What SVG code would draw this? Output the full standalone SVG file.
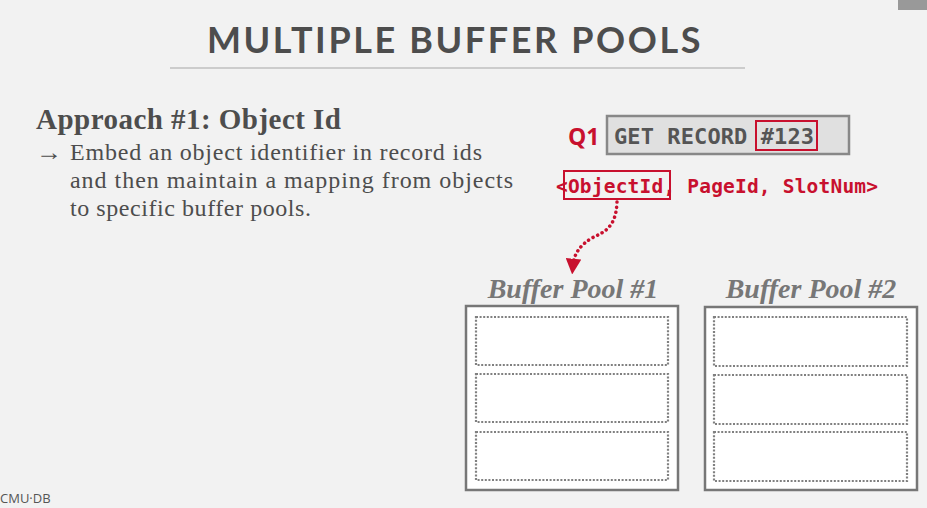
<svg xmlns="http://www.w3.org/2000/svg" width="927" height="508" viewBox="0 0 927 508">
<defs>
<style>
.title{font-family:Lato,"Open Sans",sans-serif;font-weight:bold;font-size:36px;fill:#4d4d4d;letter-spacing:2.6px}
.head{font-family:"Liberation Serif",serif;font-weight:bold;font-size:29px;fill:#4d4d4d}
.body{font-family:"Liberation Serif",serif;font-size:24px;fill:#4d4d4d}
.mono{font-family:"DejaVu Sans Mono","Liberation Mono",monospace;font-weight:bold}
.red{fill:#c8102e}
.pool{font-family:"Liberation Serif",serif;font-style:italic;font-weight:bold;font-size:28px;fill:#777}
.box{fill:#fff;stroke:#777;stroke-width:2.5}
.slot{fill:#fff;stroke:#808080;stroke-width:2.2;stroke-dasharray:2 1.6}
.hl{fill:none;stroke:#c8102e;stroke-width:2}
</style>
<marker id="ah" viewBox="0 0 10 10" refX="4" refY="5" markerWidth="4.5" markerHeight="4.5" orient="auto-start-reverse">
<path d="M0,0 L10,5 L0,10 z" fill="#c8102e"/>
</marker>
</defs>
<rect width="927" height="508" fill="#f2f2f2"/>
<rect x="898" y="0" width="29" height="10" fill="#999"/>
<text class="title" x="455" y="53" text-anchor="middle">MULTIPLE BUFFER POOLS</text>
<line x1="170" y1="68" x2="745" y2="68" stroke="#ccc" stroke-width="2"/>
<g id="text">
<text class="head" x="36" y="129" textLength="305">Approach #1: Object Id</text>
<text class="body" x="36" y="160" textLength="26" lengthAdjust="spacingAndGlyphs">→</text>
<text class="body" x="70" y="160" textLength="412">Embed an object identifier in record ids</text>
<text class="body" x="70" y="188" textLength="443">and then maintain a mapping from objects</text>
<text class="body" x="70" y="216" textLength="241">to specific buffer pools.</text>
</g>
<g id="query">
<text class="red" x="568" y="145" style="font-family:'Open Sans',Lato,sans-serif;font-weight:bold;font-size:23px">Q1</text>
<rect x="607" y="116" width="242" height="38" fill="#e0e0e0" stroke="#888" stroke-width="2.5"/>
<text class="mono" x="614" y="144" style="font-size:22px;fill:#555" textLength="200">GET RECORD #123</text>
<rect class="hl" x="756" y="121" width="61" height="29"/>
</g>
<g id="recordid">
<text class="mono red" x="556" y="193" style="font-size:19.5px" textLength="322">&lt;ObjectId, PageId, SlotNum&gt;</text>
<rect class="hl" x="564" y="171" width="106" height="28"/>
</g>
<g id="pool1">
<text class="pool" x="573" y="298" text-anchor="middle">Buffer Pool #1</text>
<rect class="box" x="466" y="306" width="212" height="184"/>
<rect class="slot" x="476" y="317" width="192" height="48"/>
<rect class="slot" x="476" y="374" width="192" height="48"/>
<rect class="slot" x="476" y="432" width="192" height="48"/>
</g>
<g id="pool2">
<text class="pool" x="811" y="298" text-anchor="middle">Buffer Pool #2</text>
<rect class="box" x="705" y="307" width="212" height="183"/>
<rect class="slot" x="714" y="317" width="193" height="49"/>
<rect class="slot" x="714" y="375" width="193" height="49"/>
<rect class="slot" x="714" y="432" width="193" height="49"/>
</g>
<g id="connectors">
<path d="M617,202 C616,228 604,232 592,238 C580,245 574,254 573,265" fill="none" stroke="#c8102e" stroke-width="3.5" stroke-dasharray="0.1 5" stroke-linecap="round" marker-end="url(#ah)"/>
</g>
<text x="0" y="503" style="font-family:'Open Sans',sans-serif;font-size:13px;fill:#555">CMU·DB</text>
</svg>
